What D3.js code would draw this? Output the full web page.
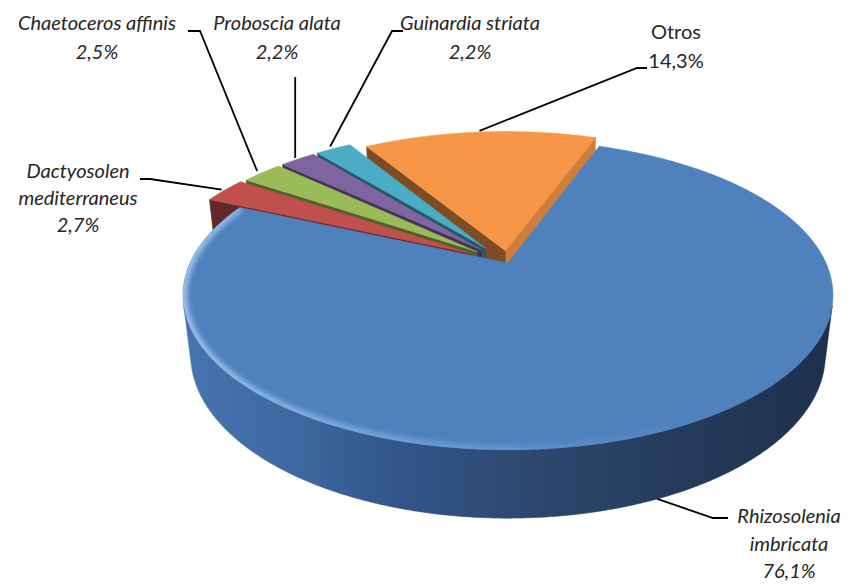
<!DOCTYPE html>
<html>
<head>
<meta charset="utf-8">
<script src="https://cdn.jsdelivr.net/npm/d3@7"></script>
<style>
  html, body { margin: 0; padding: 0; background: #ffffff; }
  svg { display: block; }
</style>
</head>
<body>
<svg id="chart" width="849" height="584"></svg>
<script>
// ---- data ----
const categories = ["Rhizosolenia imbricata", "Dactyosolen mediterraneus", "Chaetoceros affinis",
                    "Proboscia alata", "Guinardia striata", "Otros"];
const values = [76.1, 2.7, 2.5, 2.2, 2.2, 14.3];
const labelLines = [["Rhizosolenia", "imbricata"], ["Dactyosolen", "mediterraneus"], ["Chaetoceros affinis"],
                    ["Proboscia alata"], ["Guinardia striata"], ["Otros"]];

// ---- style ----
const sliceColors = ["#4f81bd", "#c0504d", "#9bbb59", "#8064a2", "#4bacc6", "#f79646"];
const explodeDist = [0, 42, 40, 40, 40, 27];
const italicLabel = [true, true, true, true, true, false];

// label layout: centre x, first baseline, line step, leader elbow points (label side first)
const labelLayout = [
  { x: 789, y: 523, step: 27.5, leader: [[728, 518], [713, 518]], pad: 0, bottom: true },
  { x: 78,  y: 178, step: 27,   leader: [[140, 179], [150, 179]], pad: 4 },
  { x: 97,  y: 30,  step: 28.5, leader: [[188, 31], [200, 31]],   pad: 8 },
  { x: 277, y: 30,  step: 28.5, leader: null,                      pad: 5 },
  { x: 470, y: 30,  step: 28.5, leader: [[403, 31], [392, 31]],   pad: 8 },
  { x: 676, y: 39,  step: 29,   leader: [[647, 68], [637, 68]],   pad: 4 }
];

const svg = d3.select("#chart");
const defs = svg.append("defs");

// ---- 3D projection of the pie disc ----
const cx = 508, cy = 263;           // projected pie centre
const R = 318;                       // disc radius
const H3 = 68;                       // disc thickness
const tilt = 27.8 * Math.PI / 180;   // elevation of the view
const F = 1364;                      // perspective distance
const sA = Math.sin(tilt), cA = Math.cos(tilt);
const cam = [0, -F * cA, F * sA];

function proj(p) {
  const [X, Y, Z] = p;
  const u = Y * sA + Z * cA;
  const d = -Y * cA + Z * sA;
  const s = F / (F - d);
  return [cx + X * s, cy - u * s];
}
function depthOf(p) { return -p[1] * cA + p[2] * sA; }
function facing(n, p) {
  return n[0] * (cam[0] - p[0]) + n[1] * (cam[1] - p[1]) + n[2] * (cam[2] - p[2]) > 0;
}

const start = 20 * Math.PI / 180;
const arcs = d3.pie().sort(null).value(d => d)
  .startAngle(start).endAngle(start + 2 * Math.PI)(values);

const line = d3.line();
const fmt = v => d3.format(".1f")(v).replace(".", ",") + "%";

// side wall gradient for the big slice
const sideGrad = defs.append("linearGradient").attr("id", "sideGrad")
  .attr("gradientUnits", "userSpaceOnUse").attr("x1", 187).attr("x2", 838).attr("y1", 0).attr("y2", 0);
[[0, "#4674b0"], [0.18, "#3d67a0"], [0.32, "#32558a"], [0.5, "#2d4a71"], [0.72, "#263d5e"], [1, "#1d2f4c"]]
  .forEach(([o, c]) => sideGrad.append("stop").attr("offset", o).attr("stop-color", c));

const rimGrad = defs.append("linearGradient").attr("id", "rimGrad")
  .attr("gradientUnits", "userSpaceOnUse").attr("x1", 187).attr("x2", 838).attr("y1", 0).attr("y2", 0);
[[0, "#a9cbf5", 0.85], [0.3, "#8fb8ee", 0.6], [0.6, "#7eaae6", 0.25], [0.8, "#7eaae6", 0]]
  .forEach(([o, c, a]) => rimGrad.append("stop").attr("offset", o).attr("stop-color", c).attr("stop-opacity", a));

defs.append("filter").attr("id", "soft").attr("x", "-10%").attr("y", "-10%").attr("width", "120%").attr("height", "120%")
  .append("feGaussianBlur").attr("stdDeviation", 2.6);

const walls = [];
const tops = [];

arcs.forEach((a, i) => {
  const t0 = a.startAngle, t1 = a.endAngle, mid = (t0 + t1) / 2;
  const e = explodeDist[i];
  const ox = e * Math.sin(mid), oy = e * Math.cos(mid);
  const rim = (t, Z) => [ox + R * Math.sin(t), oy + R * Math.cos(t), Z];
  const ctr = Z => [ox, oy, Z];
  const n = Math.max(2, Math.ceil((t1 - t0) / (0.4 * Math.PI / 180)));
  const ts = d3.range(n + 1).map(k => t0 + (t1 - t0) * k / n);
  const base = d3.color(sliceColors[i]);

  // top face
  const topPts = [ctr(0), ...ts.map(t => rim(t, 0))];
  tops.push({ i, d: line(topPts.map(proj)) + "Z", fill: sliceColors[i], ts, rim });

  // curved outer wall, front-facing stretches only
  let run = [];
  const flush = () => {
    if (run.length > 1) {
      const pts = [...run.map(t => rim(t, 0)), ...run.slice().reverse().map(t => rim(t, -H3))];
      const m = run[Math.floor(run.length / 2)];
      walls.push({ d: line(pts.map(proj)) + "Z", depth: depthOf(rim(m, -H3 / 2)),
                   fill: i === 0 ? "url(#sideGrad)" : base.darker(1.1).formatHex() });
    }
    run = [];
  };
  ts.forEach(t => {
    const vis = facing([Math.sin(t), Math.cos(t), 0], rim(t, -H3 / 2));
    if (vis) run.push(t); else flush();
  });
  flush();

  // flat cut faces
  [[t0, [-Math.cos(t0), Math.sin(t0), 0], 1.9], [t1, [Math.cos(t1), -Math.sin(t1), 0], 0.5]].forEach(([t, nrm, dk]) => {
    const q = [ctr(0), rim(t, 0), rim(t, -H3), ctr(-H3)];
    const m = [(q[0][0] + q[1][0]) / 2, (q[0][1] + q[1][1]) / 2, -H3 / 2];
    if (facing(nrm, m)) {
      walls.push({ d: line(q.map(proj)) + "Z", depth: depthOf(m), fill: base.darker(dk).formatHex() });
    }
  });
});

const g = svg.append("g");
walls.sort((p, q) => p.depth - q.depth);
g.selectAll("path.wall").data(walls).join("path").attr("class", "wall")
  .attr("d", d => d.d).attr("fill", d => d.fill)
  .attr("stroke", d => d.fill).attr("stroke-width", 0.6).attr("stroke-linejoin", "round");

g.selectAll("path.top").data(tops).join("path").attr("class", "top")
  .attr("d", d => d.d).attr("fill", d => d.fill)
  .attr("stroke", d => d.fill).attr("stroke-width", 0.5).attr("stroke-linejoin", "round");

// soft bevel glow along the front rim of the big slice
const big = tops[0];
defs.append("clipPath").attr("id", "bigTop").append("path").attr("d", big.d);
const glowTs = big.ts.filter(t => t > 95 * Math.PI / 180);
g.append("path")
  .attr("d", line(glowTs.map(t => proj(big.rim(t, 0)))))
  .attr("fill", "none").attr("stroke", "url(#rimGrad)").attr("stroke-width", 9)
  .attr("filter", "url(#soft)").attr("clip-path", "url(#bigTop)");

// ---- labels and leader lines ----
const lg = svg.append("g").attr("font-family", "Lato, 'Open Sans', sans-serif")
  .attr("font-size", 20).attr("fill", "#262626");

arcs.forEach((a, i) => {
  const L = labelLayout[i];
  const mid = (a.startAngle + a.endAngle) / 2;
  const ox = explodeDist[i] * Math.sin(mid), oy = explodeDist[i] * Math.cos(mid);
  const anchor = proj([ox + (R + L.pad) * Math.sin(mid), oy + (R + L.pad) * Math.cos(mid), L.bottom ? -H3 : 0]);
  const pts = L.leader ? [...L.leader, anchor] : [[anchor[0], 77], anchor];
  lg.append("path").attr("d", line(pts)).attr("fill", "none")
    .attr("stroke", "#000").attr("stroke-width", 1.8);

  const lines = [...labelLines[i], fmt(values[i])];
  const txt = lg.append("text").attr("text-anchor", "middle")
    .attr("font-style", italicLabel[i] ? "italic" : "normal");
  lines.forEach((s, k) => txt.append("tspan").attr("x", L.x).attr("y", L.y + k * L.step).text(s));
});
</script>
</body>
</html>
